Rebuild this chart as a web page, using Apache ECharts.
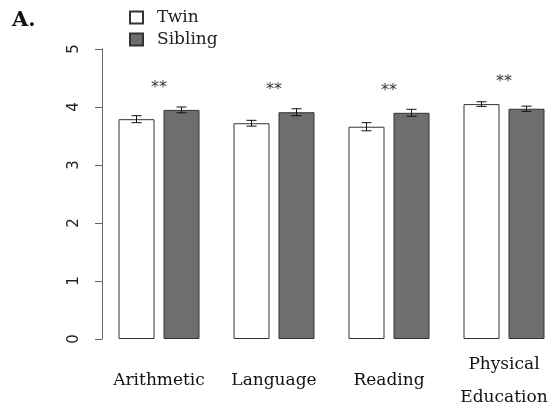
<!DOCTYPE html>
<html>
<head>
<meta charset="utf-8">
<script src="https://cdn.jsdelivr.net/npm/echarts@6/dist/echarts.min.js"></script>
<style>
  html, body { margin: 0; padding: 0; background: #fff; }
  #main { width: 548px; height: 415px; }
</style>
</head>
<body>
<div id="main"></div>
<script>
// 数据
var subjects = ['Arithmetic', 'Language', 'Reading', 'Physical\nEducation'];
var twinMean = [3.79, 3.72, 3.66, 4.05];
var twinErr = [0.06, 0.05, 0.07, 0.04];
var siblingMean = [3.95, 3.91, 3.90, 3.97];
var siblingErr = [0.05, 0.06, 0.06, 0.045];
var stars = ['**', '**', '**', '**'];

var myChart = echarts.init(document.getElementById('main'));

var barW = 36;
var half = 22.5; // 两个柱子中心到组中心的距离

// 误差线
function errorBar(means, errs, dx) {
  return function (params, api) {
    var i = api.value(0);
    var m = means[i], e = errs[i];
    var top = api.coord([i, m + e]);
    var bot = api.coord([i, m - e]);
    var x = top[0] + dx;
    var st = { stroke: '#111', lineWidth: 1 };
    return {
      type: 'group',
      children: [
        { type: 'line', shape: { x1: x, y1: top[1], x2: x, y2: bot[1] }, style: st },
        { type: 'line', shape: { x1: x - 5, y1: top[1], x2: x + 5, y2: top[1] }, style: st },
        { type: 'line', shape: { x1: x - 5, y1: bot[1], x2: x + 5, y2: bot[1] }, style: st }
      ]
    };
  };
}

var idx = subjects.map(function (s, i) { return [i]; });

var option = {
  animation: false,
  title: {
    text: 'A.',
    left: 7,
    top: 5,
    textStyle: { fontFamily: 'DejaVu Serif', fontWeight: 'bold', fontSize: 21, color: '#111' }
  },
  legend: {
    orient: 'vertical',
    left: 124,
    top: 4,
    itemWidth: 13,
    itemHeight: 12,
    itemGap: 5,
    icon: 'rect',
    data: ['Twin', 'Sibling'],
    textStyle: { fontFamily: 'DejaVu Serif', fontSize: 17, color: '#222', padding: [0, 0, 0, 9] }
  },
  // 组中心在 159, 274, 389, 504
  grid: { left: 159, top: 49, width: 345, height: 290, outerBoundsMode: 'none', containLabel: false },
  xAxis: {
    type: 'category',
    data: subjects,
    boundaryGap: false,
    axisLine: { show: false },
    axisTick: { show: false },
    axisLabel: {
      interval: 0,
      margin: 42,
      verticalAlign: 'middle',
      lineHeight: 33,
      fontFamily: 'DejaVu Serif',
      fontSize: 17,
      color: '#111'
    }
  },
  yAxis: {
    type: 'value',
    min: 0,
    max: 5,
    interval: 1,
    offset: 57,
    splitLine: { show: false },
    axisLine: { show: true, lineStyle: { color: '#666', width: 1 } },
    axisTick: { show: true, length: 7, lineStyle: { color: '#666' } },
    axisLabel: {
      rotate: 90,
      margin: 20,
      fontFamily: 'DejaVu Sans',
      fontSize: 15,
      color: '#222'
    }
  },
  series: [
    {
      name: 'Twin',
      type: 'bar',
      data: twinMean,
      barWidth: barW,
      barGap: '25%',
      itemStyle: { color: '#fff', borderColor: '#333', borderWidth: 1 }
    },
    {
      name: 'Sibling',
      type: 'bar',
      data: siblingMean,
      barWidth: barW,
      barGap: '25%',
      itemStyle: { color: '#6e6e6e', borderColor: '#333', borderWidth: 1 }
    },
    {
      type: 'custom',
      renderItem: errorBar(twinMean, twinErr, -half),
      data: idx,
      z: 5
    },
    {
      type: 'custom',
      renderItem: errorBar(siblingMean, siblingErr, half),
      data: idx,
      z: 5
    },
    {
      // 显著性标记
      type: 'custom',
      data: idx,
      z: 5,
      renderItem: function (params, api) {
        var i = api.value(0);
        var m = Math.max(twinMean[i], siblingMean[i]);
        var p = api.coord([i, m]);
        return {
          type: 'text',
          style: {
            x: p[0], y: p[1] - 22,
            text: stars[i],
            align: 'center',
            verticalAlign: 'middle',
            font: '16px "DejaVu Sans"',
            fill: '#333'
          }
        };
      }
    }
  ]
};

myChart.setOption(option);
</script>
</body>
</html>
